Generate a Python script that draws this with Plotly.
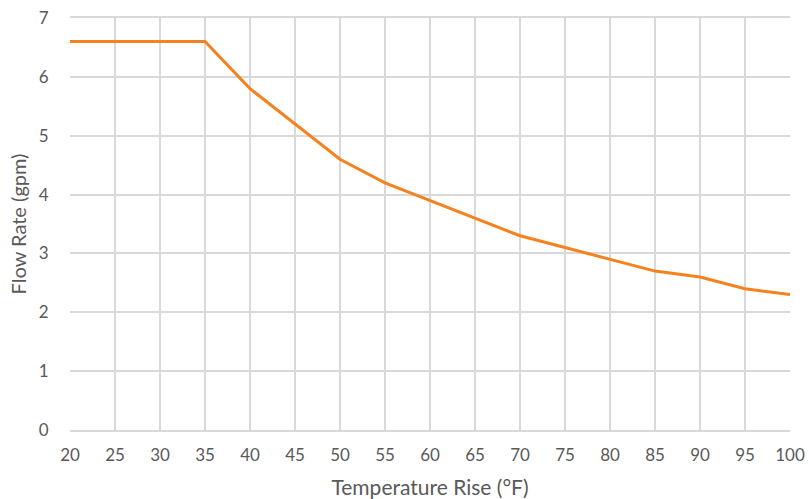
import plotly.graph_objects as go

temperature_rise = [20, 25, 30, 35, 40, 45, 50, 55, 60, 65, 70, 75, 80, 85, 90, 95, 100]
flow_rate = [6.6, 6.6, 6.6, 6.6, 5.8, 5.2, 4.6, 4.2, 3.9, 3.6, 3.3, 3.1, 2.9, 2.7, 2.6, 2.4, 2.3]

FONT = "Lato, Carlito, Calibri, sans-serif"
GRID = "#d9d9d9"
TXT = "#595959"

fig = go.Figure()
fig.add_trace(go.Scatter(
    x=temperature_rise, y=flow_rate, mode="lines",
    line=dict(color="#F5821F", width=3), showlegend=False,
))

fig.update_layout(
    width=809, height=499,
    margin=dict(l=70, r=19, t=18, b=69),
    paper_bgcolor="white", plot_bgcolor="white",
    font=dict(family=FONT, size=17, color=TXT),
)
fig.update_xaxes(
    range=[20, 100], dtick=5, tick0=20, automargin=False,
    showgrid=True, gridcolor=GRID, gridwidth=1.5,
    showline=True, mirror=True, linecolor=GRID, linewidth=1.5,
    ticks="outside", ticklen=9, tickcolor="rgba(0,0,0,0)",
    tickfont=dict(size=17, color=TXT), ticklabeloverflow="allow",
    title=dict(text="Temperature Rise (°F)", font=dict(size=21, color=TXT), standoff=16),
    zeroline=False,
)
fig.update_yaxes(
    range=[0, 7], dtick=1, automargin=False,
    showgrid=True, gridcolor=GRID, gridwidth=1.5,
    ticks="outside", ticklen=17, tickcolor="rgba(0,0,0,0)",
    tickfont=dict(size=17, color=TXT), ticklabeloverflow="allow",
    title=dict(text="Flow Rate (gpm)", font=dict(size=20, color=TXT), standoff=6),
    zeroline=False,
)

fig.write_html(
    "out.html",
    config={"displayModeBar": False},
    post_script="document.body.style.margin='0';document.body.style.overflow='hidden';",
)
